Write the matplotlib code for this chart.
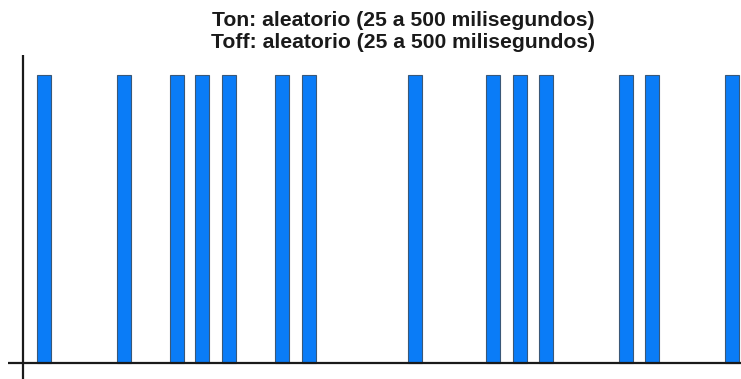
import matplotlib.pyplot as plt

# pulse start positions (arbitrary time units along the axis) and pulse width
pulse_starts = [14, 94, 147, 172, 199, 252, 279, 385, 463, 490, 516, 596, 622, 702]
pulse_width = 13.5
pulse_level = 1.0
title_lines = ["Ton: aleatorio (25 a 500 milisegundos)",
               "Toff: aleatorio (25 a 500 milisegundos)"]

plt.rcParams['font.family'] = ['Liberation Sans', 'DejaVu Sans']

fig = plt.figure(figsize=(7.41, 3.79), dpi=100)
ax = fig.add_axes([8 / 741, 0, 1 - 8 / 741, (379 - 55) / 379])

ax.bar(pulse_starts, [pulse_level] * len(pulse_starts), width=pulse_width,
       align='edge', color='#0a7cf7', edgecolor='#3a5878', linewidth=0.8, zorder=2)

ax.axvline(0, color='#1a1a1a', lw=1.6, zorder=3)
ax.axhline(0, color='#1a1a1a', lw=1.6, zorder=3)

ax.set_xlim(-15, 718)
ax.set_ylim(-16 / 288, (363 - 55) / 288)
ax.axis('off')

fig.text(403 / 741, 1 - 20 / 379, title_lines[0], ha='center', va='center',
         fontsize=15.2, fontweight='bold', color='#1a1a1a')
fig.text(403 / 741, 1 - 43 / 379, title_lines[1], ha='center', va='center',
         fontsize=15.2, fontweight='bold', color='#1a1a1a')

fig.savefig('out.png', dpi=100, facecolor='white')
